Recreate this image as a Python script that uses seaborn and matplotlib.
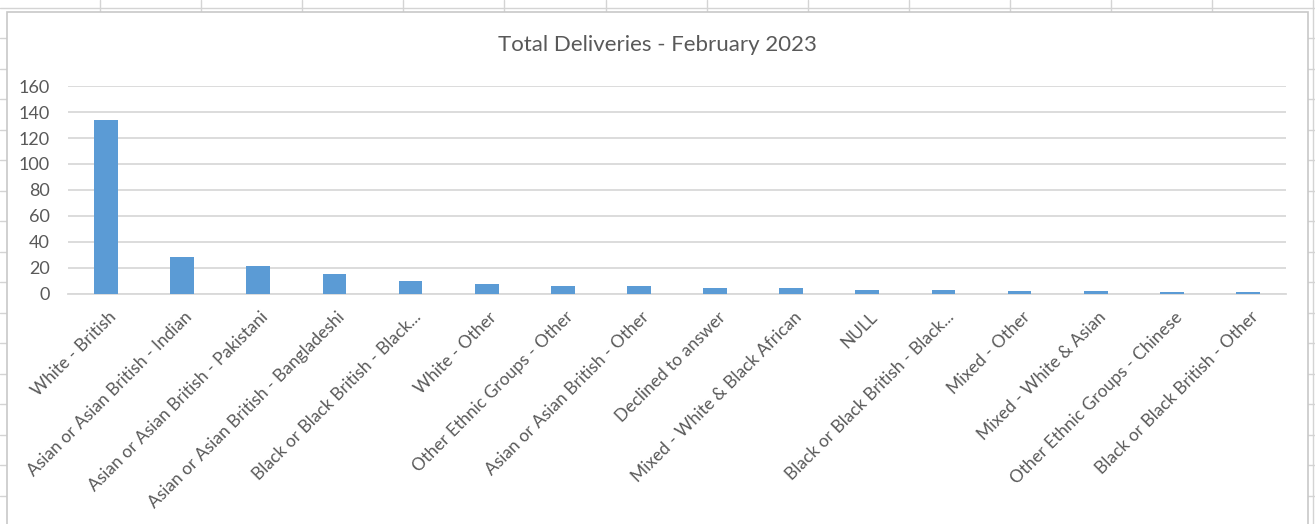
import matplotlib
matplotlib.use("Agg")
import matplotlib.pyplot as plt
import matplotlib.transforms as mtransforms
from matplotlib.lines import Line2D
from matplotlib.patches import Rectangle
import seaborn as sns
import pandas as pd

# Deliveries by ethnic group, February 2023
categories = [
    "White - British",
    "Asian or Asian British - Indian",
    "Asian or Asian British - Pakistani",
    "Asian or Asian British - Bangladeshi",
    "Black or Black British - Black...",
    "White - Other",
    "Other Ethnic Groups - Other",
    "Asian or Asian British - Other",
    "Declined to answer",
    "Mixed - White & Black African",
    "NULL",
    "Black or Black British - Black...",
    "Mixed - Other",
    "Mixed - White & Asian",
    "Other Ethnic Groups - Chinese",
    "Black or Black British - Other",
]
deliveries = [134, 28, 21, 15, 10, 7, 6, 6, 4, 4, 3, 3, 2, 2, 1, 1]
y_ticks = [0, 20, 40, 60, 80, 100, 120, 140, 160]
title = "Total Deliveries - February 2023"

BAR = "#5B9BD5"
GRID = "#D9D9D9"
TEXT = "#595959"
SHEET = "#D4D4D4"

sns.set_style("white")
plt.rcParams["font.family"] = ["Lato", "DejaVu Sans"]

W, H, DPI = 1315, 524, 100
fig = plt.figure(figsize=(W / DPI, H / DPI), dpi=DPI)
fig.patch.set_facecolor("white")


def px(x, y):
    """Figure-fraction coordinates from pixel coordinates (origin top-left)."""
    return x / W, 1 - y / H


# Spreadsheet cell grid behind the chart object
for k in range(13):
    x = 100 + 101.1 * k
    fig.add_artist(Line2D([x / W, x / W], [1, 0], color=SHEET, lw=1, zorder=0))
for k in range(18):
    y = 7.7 + 30.5 * k
    fig.add_artist(Line2D([0, 1], [1 - y / H, 1 - y / H], color=SHEET, lw=1, zorder=0))

# Chart object frame
x0, y0 = px(7, 12)
x1, _ = px(1308, 0)
fig.add_artist(Rectangle((x0, -0.1), x1 - x0, y0 + 0.1, transform=fig.transFigure,
                         facecolor="white", edgecolor="#C8C8C8", lw=1.2, zorder=1))

# Plot area
left, top = px(68, 86.3)
right, bottom = px(1286, 293.5)
ax = fig.add_axes([left, bottom, right - left, top - bottom], zorder=2)
ax.set_facecolor("none")

df = pd.DataFrame({"group": categories, "deliveries": deliveries})
df["pos"] = range(len(df))
sns.barplot(data=df, x="pos", y="deliveries", color=BAR, saturation=1,
            width=0.313, linewidth=0, ax=ax, zorder=3)

ax.set_xlim(-0.5, len(categories) - 0.5)
ax.set_ylim(y_ticks[0], y_ticks[-1])
ax.set_yticks(y_ticks)
ax.set_yticklabels([str(v) for v in y_ticks])
ax.yaxis.grid(True, color=GRID, lw=1.3, zorder=0)
ax.set_axisbelow(True)
for s in ["top", "right", "left"]:
    ax.spines[s].set_visible(False)
ax.spines["bottom"].set_color(GRID)
ax.spines["bottom"].set_linewidth(1.3)
ax.spines["bottom"].set_zorder(1)

ax.set_xlabel("")
ax.set_ylabel("")
ax.tick_params(axis="y", length=0, pad=13, labelsize=13, labelcolor=TEXT)
ax.tick_params(axis="x", length=0, pad=11, labelsize=12.5, labelcolor=TEXT)

ax.set_xticks(range(len(categories)))
ax.set_xticklabels(categories, rotation=45, ha="right", va="top",
                   rotation_mode="anchor")
shift = mtransforms.ScaledTranslation(2 / DPI, 0, fig.dpi_scale_trans)
for lab in ax.get_xticklabels():
    lab.set_transform(lab.get_transform() + shift)

tx, ty = px(657, 45)
fig.text(tx, ty, title, ha="center", va="center", fontsize=16, color=TEXT)

fig.savefig("out.png", dpi=DPI)
